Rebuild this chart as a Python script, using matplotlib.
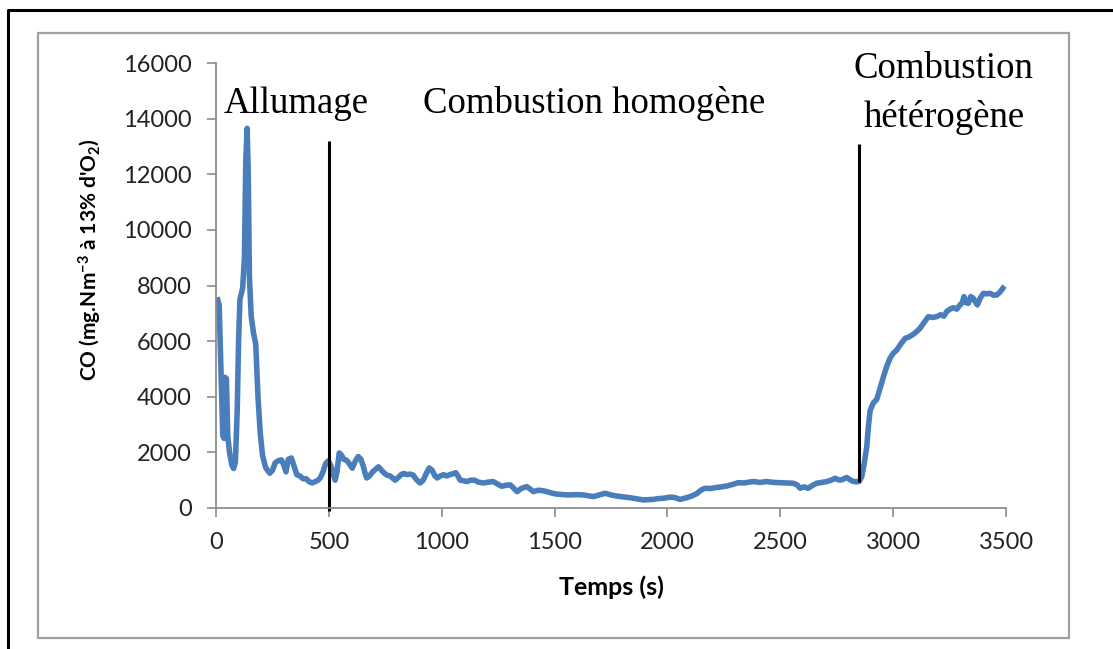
import matplotlib
matplotlib.use("Agg")
import matplotlib.pyplot as plt
from matplotlib.lines import Line2D
from matplotlib.patches import Rectangle

# données (temps en s, CO en mg.Nm-3 à 13% O2)
temps = [8, 14, 22, 30, 36, 40, 46, 52, 60, 70, 78, 86, 94, 100, 106, 118, 126, 132, 138, 143,
         148, 156, 166, 176, 186, 196, 206, 220, 238, 250, 262, 276, 290, 300, 310, 320, 334, 346,
         358, 372, 386, 400, 412, 426, 440, 452, 462, 474, 486, 498, 510, 520, 528, 536, 546, 556,
         566, 578, 590, 604, 618, 630, 642, 653, 662, 668, 680, 694, 708, 720, 734, 746, 758, 772,
         786, 794, 808, 820, 832, 846, 860, 874, 888, 904, 918, 932, 945, 958, 970, 980, 994, 1008,
         1022, 1036, 1050, 1062, 1072, 1082, 1096, 1112, 1128, 1146, 1162, 1184, 1206, 1228, 1246,
         1266, 1286, 1304, 1320, 1334, 1352, 1376, 1392, 1406, 1428, 1450, 1470, 1490, 1510, 1540,
         1568, 1598, 1627, 1650, 1672, 1698, 1724, 1750, 1775, 1805, 1834, 1864, 1893, 1916, 1938,
         1960, 1982, 2011, 2030, 2056, 2080, 2108, 2130, 2150, 2167, 2190, 2218, 2240, 2263, 2290,
         2314, 2340, 2360, 2381, 2410, 2440, 2470, 2499, 2530, 2558, 2575, 2588, 2605, 2624, 2640,
         2661, 2685, 2706, 2725, 2743, 2758, 2772, 2794, 2808, 2821, 2838, 2850, 2861, 2872, 2883,
         2890, 2898, 2912, 2927, 2942, 2957, 2972, 2986, 3000, 3016, 3034, 3053, 3070, 3090, 3105,
         3119, 3138, 3156, 3175, 3193, 3210, 3225, 3237, 3252, 3267, 3282, 3296, 3306, 3314, 3324,
         3333, 3344, 3355, 3365, 3373, 3386, 3400, 3415, 3429, 3445, 3459, 3472, 3486]
co = [7480, 7300, 5000, 2600, 2500, 4700, 4650, 2600, 2000, 1550, 1420, 1650, 3500, 6000, 7500,
      7900, 9000, 12500, 13650, 12000, 8300, 6900, 6300, 5900, 4000, 2700, 1900, 1450, 1250, 1350,
      1620, 1700, 1730, 1550, 1300, 1750, 1800, 1500, 1200, 1150, 1050, 1050, 950, 900, 950, 1000,
      1080, 1300, 1600, 1700, 1500, 1200, 1000, 1300, 1980, 1900, 1750, 1720, 1600, 1430, 1700,
      1850, 1750, 1490, 1200, 1080, 1150, 1300, 1400, 1480, 1350, 1250, 1180, 1150, 1050, 1000,
      1100, 1200, 1240, 1200, 1220, 1180, 1020, 900, 1000, 1250, 1440, 1350, 1150, 1080, 1150,
      1200, 1150, 1200, 1230, 1270, 1150, 1000, 980, 950, 1000, 1000, 930, 900, 930, 950, 870,
      780, 820, 830, 700, 590, 700, 770, 680, 590, 640, 620, 580, 530, 500, 480, 470, 480, 470,
      440, 410, 470, 530, 470, 430, 400, 370, 330, 290, 300, 310, 340, 350, 390, 380, 310, 360,
      430, 520, 650, 710, 700, 740, 760, 790, 850, 910, 900, 930, 950, 920, 950, 920, 910, 900,
      890, 830, 710, 760, 710, 800, 890, 920, 950, 1000, 1070, 1010, 1010, 1100, 1020, 960, 940,
      960, 1130, 1600, 2200, 2900, 3500, 3780, 3900, 4300, 4720, 5100, 5380, 5560, 5680, 5900,
      6100, 6150, 6250, 6350, 6460, 6680, 6880, 6850, 6880, 6950, 6900, 7060, 7150, 7200, 7150,
      7300, 7380, 7600, 7380, 7360, 7600, 7540, 7400, 7300, 7550, 7720, 7700, 7720, 7650, 7660,
      7750, 7900]

# limites des phases
phase_x = [500, 2850]
phase_bas = [-100, 950]
phase_haut = [13200, 13100]

plt.rcParams['font.family'] = ['Lato', 'DejaVu Sans']
plt.rcParams['mathtext.fontset'] = 'custom'
plt.rcParams['mathtext.bf'] = 'Lato:bold'
plt.rcParams['mathtext.rm'] = 'Lato:bold'
plt.rcParams['mathtext.default'] = 'bf'

W, H = 1113, 649
fig = plt.figure(figsize=(W / 100, H / 100), dpi=100)
ax = fig.add_axes([216 / W, 1 - 508 / H, 790 / W, 445 / H])

ax.plot(temps, co, color='#4A7EBB', lw=4, solid_joinstyle='round')
ax.vlines(phase_x, phase_bas, phase_haut, color='black', lw=2.2, clip_on=False)

ax.set_xlim(0, 3500)
ax.set_ylim(0, 16000)
ax.set_xticks(range(0, 3501, 500))
ax.set_yticks(range(0, 16001, 2000))
for s in ['top', 'right']:
    ax.spines[s].set_visible(False)
for s in ['left', 'bottom']:
    ax.spines[s].set_color('#8C8C8C')
    ax.spines[s].set_linewidth(1.3)
ax.tick_params(length=6.5, width=1.2, color='#8C8C8C', labelsize=17, pad=11,
               labelcolor='#222222')

ax.set_xlabel('Temps (s)', fontsize=18, fontweight='bold', va='center')
ax.xaxis.set_label_coords(0.5, -0.178)
ax.set_ylabel("CO (mg.Nm$^{-3}$ à 13% d'O$_2$)", fontsize=15, fontweight='bold', va='center')
ax.yaxis.set_label_coords(-0.159, 0.557)

serif = dict(family='Liberation Serif', fontsize=26.5, ha='center', va='baseline', clip_on=False)
ax.text(354, 14200, 'Allumage', **serif)
ax.text(1675, 14200, 'Combustion homogène', **serif)
ax.text(3225, 15460, 'Combustion', **serif)
ax.text(3225, 13700, 'hétérogène', **serif)

# cadres
fig.add_artist(Rectangle((38 / W, 1 - 638 / H), (1069 - 38) / W, (638 - 33) / H,
                         transform=fig.transFigure, fill=False, edgecolor='#A0A0A0', lw=1.6))
fig.add_artist(Line2D([8 / W, 8 / W, 1], [0, 1 - 10 / H, 1 - 10 / H],
                      transform=fig.transFigure, color='black', lw=2.2))

fig.savefig('out.png', dpi=100)
